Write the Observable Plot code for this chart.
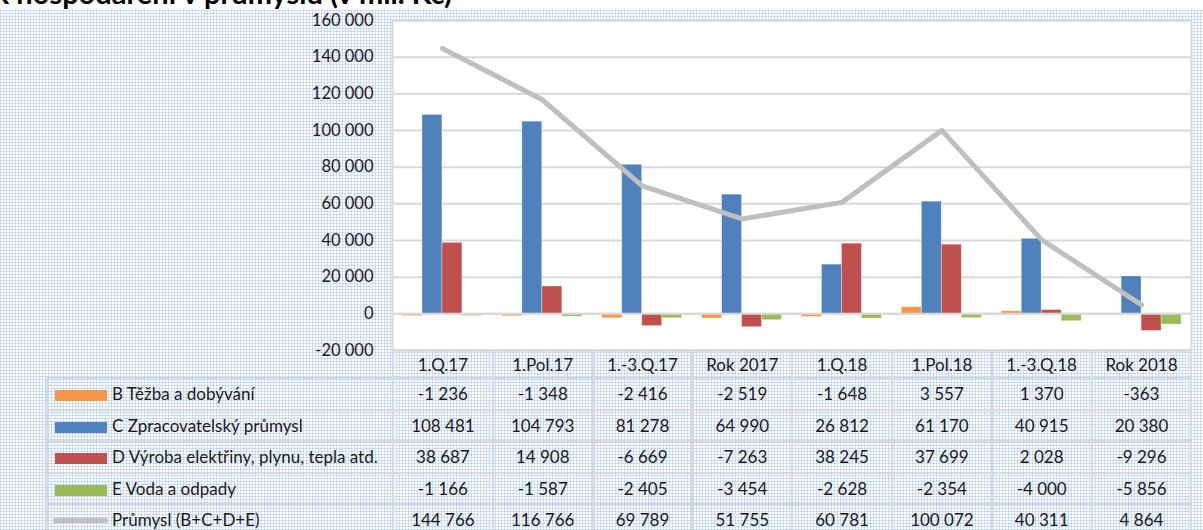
<!DOCTYPE html>
<html><head><meta charset="utf-8">
<script src="https://cdn.jsdelivr.net/npm/d3@7"></script>
<script src="https://cdn.jsdelivr.net/npm/@observablehq/plot@0.6"></script>
<style>
html,body{margin:0;padding:0;background:#fff;}
body{width:1203px;height:530px;position:relative;overflow:hidden;font-family:Lato,"Open Sans",sans-serif;color:#1a1a1a;}
#bg{position:absolute;left:0;top:10px;width:1203px;height:520px;background-color:#fff;
background-image:linear-gradient(to right, rgba(120,165,225,.33) 1px, transparent 1px),linear-gradient(to bottom, rgba(120,165,225,.33) 1px, transparent 1px);
background-size:3px 3px;}
#title{position:absolute;left:0;top:0;}
#chart{position:absolute;left:0;top:0;}
#tbl{position:absolute;left:46px;top:349px;border-collapse:collapse;table-layout:fixed;font-size:17px;}
#tbl td{border:2px solid #d9d9d9;text-align:center;padding:0;white-space:nowrap;overflow:hidden;}
#tbl td.corner{border:none;}
#tbl td.leg{text-align:left;}
.sw{display:inline-block;width:52px;height:11px;margin-left:7px;margin-right:5px;vertical-align:-1px;}
.swl{display:inline-block;width:55px;height:5px;border-radius:3px;margin-left:5px;margin-right:4px;vertical-align:3px;background:#bfbfbf;}
</style></head>
<body>
<div id="bg"></div>
<svg id="title" width="1203" height="10"><text x="452" y="3.5" text-anchor="end" font-family="Lato" font-weight="bold" font-size="29" fill="#000">Graf: Výsledek hospodaření v průmyslu (v mil. Kč)</text></svg>
<div id="chart"></div>
<table id="tbl"></table>
<script>
const categories = ["1.Q.17","1.Pol.17","1.-3.Q.17","Rok 2017","1.Q.18","1.Pol.18","1.-3.Q.18","Rok 2018"];
const seriesNames = ["B Těžba a dobývání","C Zpracovatelský průmysl","D Výroba elektřiny, plynu, tepla atd.","E Voda a odpady"];
const totalName = "Průmysl (B+C+D+E)";
const valuesB = [-1236,-1348,-2416,-2519,-1648,3557,1370,-363];
const valuesC = [108481,104793,81278,64990,26812,61170,40915,20380];
const valuesD = [38687,14908,-6669,-7263,38245,37699,2028,-9296];
const valuesE = [-1166,-1587,-2405,-3454,-2628,-2354,-4000,-5856];
const valuesTotal = [144766,116766,69789,51755,60781,100072,40311,4864];
const yTicks = [-20000,0,20000,40000,60000,80000,100000,120000,140000,160000];

const colors = ["#F79646","#4F81BD","#C0504D","#9BBB59"];
const seriesValues = [valuesB, valuesC, valuesD, valuesE];
const loc = d3.formatLocale({decimal:",", thousands:"\u00a0", grouping:[3], currency:["","Kč"], minus:"-"});
const fmt0 = loc.format(",d");
const fmt = v => fmt0(v).replace(/\u00a0/g," ");

const rows = i => categories.map((c,j)=>({cat:c, v:seriesValues[i][j]}));
const totalRows = categories.map((c,j)=>({cat:c, v:valuesTotal[j]}));

const chart = Plot.plot({
  width:1203, height:352,
  marginLeft:392, marginRight:12, marginTop:20, marginBottom:2,
  style:{background:"transparent", fontFamily:"Lato, sans-serif", fontSize:"16.5px", color:"#1a1a1a", overflow:"visible"},
  x:{domain:categories, padding:0, round:false, axis:null},
  y:{domain:[-20000,160000], axis:null},
  marks:[
    Plot.frame({fill:"white", stroke:"none"}),
    Plot.gridY(yTicks, {stroke:"#d9d9d9", strokeWidth:2, strokeOpacity:1}),
    ...seriesValues.map((s,i)=>Plot.barY(rows(i), {x:"cat", y:"v", fill:colors[i], stroke:"white", strokeOpacity:0.35, strokeWidth:0.8, insetLeft:10+20*i, insetRight:70-20*i})),
    Plot.ruleY([0], {stroke:"#d9d9d9", strokeWidth:2}),
    Plot.line(totalRows, {x:"cat", y:"v", stroke:"#bfbfbf", strokeWidth:5, strokeLinejoin:"round"}),
    Plot.frame({stroke:"#d9d9d9", strokeWidth:2}),
    Plot.axisY(yTicks, {tickSize:0, tickPadding:19, tickFormat:fmt, label:null, fontSize:16.5, fill:"#1a1a1a"})
  ]
});
document.getElementById("chart").appendChild(chart);

// data table
const tbl = d3.select("#tbl");
const cg = tbl.append("colgroup");
cg.append("col").style("width","346px");
categories.forEach(()=>cg.append("col").style("width","99.8px"));
const hr = tbl.append("tr").style("height","28px");
hr.append("td").attr("class","corner");
categories.forEach(c=>hr.append("td").text(c));
seriesNames.forEach((name,i)=>{
  const tr = tbl.append("tr").style("height","31.5px");
  const td = tr.append("td").attr("class","leg");
  td.append("span").attr("class","sw").style("background",colors[i]);
  td.append("span").text(name);
  seriesValues[i].forEach(v=>tr.append("td").text(fmt(v)));
});
const tr = tbl.append("tr").style("height","31.5px");
const td = tr.append("td").attr("class","leg");
td.append("span").attr("class","swl");
td.append("span").text(totalName);
valuesTotal.forEach(v=>tr.append("td").text(fmt(v)));
</script>
</body></html>
